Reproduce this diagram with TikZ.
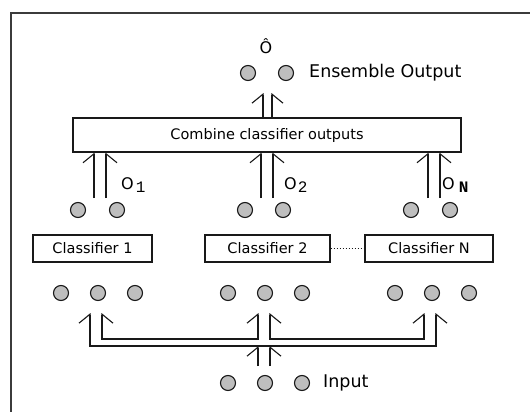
\documentclass[tikz,border=0pt]{standalone}
\usepackage{fontspec}
\setsansfont{DejaVu Sans}
\newfontfamily\codefont{Liberation Mono}
\usetikzlibrary{positioning,arrows.meta}
\definecolor{unitGray}{RGB}{190,190,190}
\definecolor{inkDark}{RGB}{25,25,25}

\begin{document}
\begin{tikzpicture}[x=1pt, y=-1pt,
  barbW/.tip={Straight Barb[left, length=9pt, width=22pt]},
  barbE/.tip={Straight Barb[right, length=9pt, width=22pt]},
  unit/.style={circle, draw=inkDark, line width=1.1pt, fill=unitGray,
               minimum size=15pt, inner sep=0pt},
  combox/.style={draw=inkDark, line width=1.2pt, fill=white, inner sep=0pt,
                 font=\sffamily\fontsize{14.5}{16}\selectfont},
  clsbox/.style={draw=inkDark, line width=1.2pt, fill=white, inner sep=0pt,
                 minimum height=27pt, font=\sffamily\fontsize{14.5}{16}\selectfont},
  tag/.style={anchor=west, inner sep=0pt, font=\sffamily\fontsize{17.5}{20}\selectfont},
  outtag/.style={anchor=west, inner sep=0pt, font=\sffamily\fontsize{16}{20}\selectfont},
  upW/.style={line width=1.1pt, inkDark, -barbW},
  upE/.style={line width=1.1pt, inkDark, -barbE}
]
\useasboundingbox (0,0) rectangle (530,412);
\fill[white] (0,0) rectangle (530,412);
%% frame
\draw[line width=1.5pt, inkDark!85] (11,412) |- (530,13);

%% Ensemble output
\node[inner sep=0pt, font=\sffamily\fontsize{16}{18}\selectfont] (ohat) at (266,46) {Ô};
\node[unit] (e1) at (248,73) {};
\node[unit] (e2) at (286,73) {};
\node[tag] (etag) at (309,73) {Ensemble Output};
\coordinate (ensIn) at (267.5,93);

%% Combiner
\node[combox, minimum width=388pt, minimum height=34pt] (comb) at (267,135)
  {Combine classifier outputs};
\draw[upW] ([xshift=-4.5pt]comb.north -| ensIn) -- ([xshift=-4.5pt]ensIn);
\draw[upE] ([xshift=4.5pt]comb.north -| ensIn) -- ([xshift=4.5pt]ensIn);

%% Classifier outputs
\node[unit] (a1) at (78,210) {};
\node[unit] (a2) at (117,210) {};
\node[unit] (b1) at (245,210) {};
\node[unit] (b2) at (283,210) {};
\node[unit] (n1) at (411,210) {};
\node[unit] (n2) at (450,210) {};
\coordinate (outA) at (100,198);
\coordinate (outB) at (267,198);
\coordinate (outN) at (434,198);
\draw[upW] ([xshift=-6pt]outA) -- ([xshift=-6pt]outA |- comb.south);
\draw[upE] ([xshift=6pt]outA) -- ([xshift=6pt]outA |- comb.south);
\draw[upW] ([xshift=-6pt]outB) -- ([xshift=-6pt]outB |- comb.south);
\draw[upE] ([xshift=6pt]outB) -- ([xshift=6pt]outB |- comb.south);
\draw[upW] ([xshift=-6pt]outN) -- ([xshift=-6pt]outN |- comb.south);
\draw[upE] ([xshift=6pt]outN) -- ([xshift=6pt]outN |- comb.south);
\node[outtag] (oa) at (121,185)
  {O\hspace{2pt}\raisebox{-3pt}{\codefont\fontsize{16}{16}\selectfont 1}};
\node[outtag] (ob) at (284,185)
  {O\hspace{1pt}\raisebox{-3pt}{\codefont\fontsize{16}{16}\selectfont 2}};
\node[outtag] (on) at (442,185)
  {O\hspace{4pt}\raisebox{-3pt}{\codefont\fontsize{16}{16}\selectfont\bfseries N}};

%% Classifiers
\node[clsbox, minimum width=119pt] (cls1) at (92.5,248.5) {Classifier 1};
\node[clsbox, minimum width=125pt] (cls2) at (267.5,248.5) {Classifier 2};
\node[clsbox, minimum width=128pt] (clsN) at (429,248.5) {Classifier N};
\draw[dotted, line width=1pt, inkDark] (cls2) -- (clsN);

%% Classifier inputs
\node[unit] (p1) at (61,293) {};
\node[unit] (p2) at (98,293) {};
\node[unit] (p3) at (135,293) {};
\node[unit] (q1) at (228,293) {};
\node[unit] (q2) at (265,293) {};
\node[unit] (q3) at (302,293) {};
\node[unit] (r1) at (395,293) {};
\node[unit] (r2) at (432,293) {};
\node[unit] (r3) at (469,293) {};

%% Input bus
\coordinate (tipA) at (96,313);
\coordinate (tipB) at (264,313);
\coordinate (tipN) at (430,313);
\coordinate (busHi) at (264,339);
\coordinate (busLo) at (264,346);
\coordinate (busIn) at (264,366);
\draw[line width=1.1pt, inkDark, barbW-barbE]
  ([xshift=-6pt]tipA) -- ([xshift=-6pt]tipA |- busLo)
  -- ([xshift=6pt]tipN |- busLo) -- ([xshift=6pt]tipN);
\draw[line width=1.1pt, inkDark, barbE-barbW]
  ([xshift=6pt]tipA) -- ([xshift=6pt]tipA |- busHi)
  -- ([xshift=-6pt]tipB |- busHi) -- ([xshift=-6pt]tipB);
\draw[line width=1.1pt, inkDark, barbE-barbW]
  ([xshift=6pt]tipB) -- ([xshift=6pt]tipB |- busHi)
  -- ([xshift=-6pt]tipN |- busHi) -- ([xshift=-6pt]tipN);
\draw[upW] ([xshift=-6pt]busIn) -- ([xshift=-6pt]busLo);
\draw[upE] ([xshift=6pt]busIn) -- ([xshift=6pt]busLo);

%% Input
\node[unit] (i1) at (228,383) {};
\node[unit] (i2) at (265,383) {};
\node[unit] (i3) at (302,383) {};
\node[tag] (itag) at (323,383) {Input};
\end{tikzpicture}
\end{document}
